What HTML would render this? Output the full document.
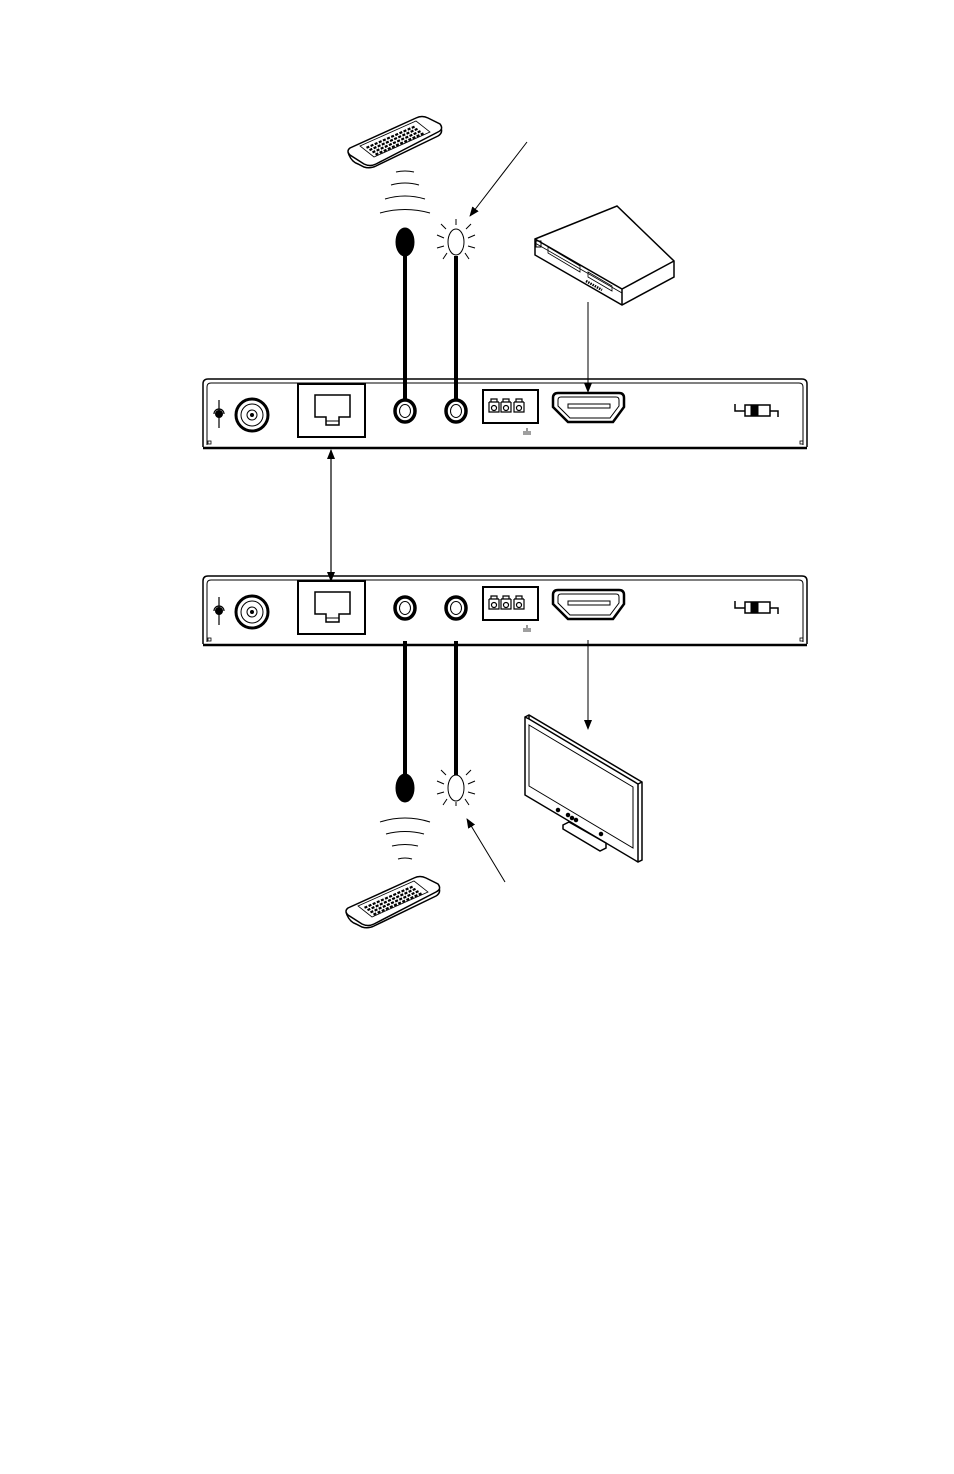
<!DOCTYPE html>
<html><head><style>body{margin:0;background:#fff}svg{display:block}</style></head><body>
<svg width="954" height="1474" viewBox="0 0 954 1474" xmlns="http://www.w3.org/2000/svg" fill="none" stroke="#000" font-family="Liberation Sans, sans-serif">
<defs>
<marker id="ah" markerWidth="10" markerHeight="10" refX="9" refY="5" orient="auto" markerUnits="userSpaceOnUse"><path d="M0,1 L10,5 L0,9 Z" fill="#000" stroke="none"/></marker>
<marker id="as" markerWidth="10" markerHeight="10" refX="1" refY="5" orient="auto" markerUnits="userSpaceOnUse"><path d="M10,1 L0,5 L10,9 Z" fill="#000" stroke="none"/></marker>
<g id="panel">
<path d="M203,447 L203,384 Q203,379 208,379 L802,379 Q807,379 807,384 L807,447" stroke-width="1.5"/>
<path d="M207,445 L207,387 Q207,383 211,383 L799,383 Q803,383 803,387 L803,445" stroke-width="1"/>
<line x1="203" y1="448" x2="807" y2="448" stroke-width="2.5"/>
<rect x="208" y="441" width="3" height="3" stroke-width="0.8"/><rect x="800" y="441" width="3" height="3" stroke-width="0.8"/>
<line x1="219" y1="400" x2="219" y2="428" stroke-width="1.2"/>
<circle cx="219" cy="414" r="3.5" fill="#000"/>
<path d="M214,414 A5,5 0 0 1 224,414" stroke-width="1.2"/>
<circle cx="252" cy="415" r="16" stroke-width="3"/>
<circle cx="252" cy="415" r="11" stroke-width="1"/>
<circle cx="252" cy="415" r="5" stroke-width="1"/>
<circle cx="252" cy="415" r="1.5" fill="#000"/>
<rect x="298" y="384" width="67" height="53" stroke-width="2"/>
<path d="M315,395 L350,395 L350,417 L339,417 L339,425 L326,425 L326,417 L315,417 Z" stroke-width="1.5"/>
<line x1="326" y1="421" x2="339" y2="421" stroke-width="1"/>
<ellipse cx="405" cy="411" rx="10" ry="11" stroke-width="3.5"/>
<ellipse cx="405" cy="411" rx="5.5" ry="6.5" stroke-width="1"/>
<ellipse cx="456" cy="411" rx="10" ry="11" stroke-width="3.5"/>
<ellipse cx="456" cy="411" rx="5.5" ry="6.5" stroke-width="1"/>
<rect x="483" y="390" width="55" height="33" stroke-width="2"/>
<g stroke-width="1.2">
<path d="M489,402 h10 M491,402 v-3 h6 v3 M489,402 v10 h10 v-10"/><circle cx="494" cy="408" r="2.5"/>
<path d="M501,402 h10 M503,402 v-3 h6 v3 M501,402 v10 h10 v-10"/><circle cx="506" cy="408" r="2.5"/>
<path d="M514,402 h10 M516,402 v-3 h6 v3 M514,402 v10 h10 v-10"/><circle cx="519" cy="408" r="2.5"/>
</g>
<path d="M527,428 v3 M523,432 h8 M523,434 h8" stroke-width="0.8"/>
<path d="M558,393 L619,393 Q624,393 624,398 L624,407 L613,422 L568,422 L553,407 L553,398 Q553,393 558,393 Z" stroke-width="2.5"/>
<path d="M561,397 L616,397 Q619,397 619,400 L619,406 L610,418 L570,418 L558,406 L558,400 Q558,397 561,397 Z" stroke-width="1"/>
<rect x="568" y="404" width="42" height="4" stroke-width="1"/>
<path d="M735,404 v7 h10 M770,411 h8 v6" stroke-width="1.5"/>
<rect x="745" y="405" width="25" height="11" stroke-width="1.5"/>
<rect x="751" y="405" width="7" height="11" fill="#000"/>
</g>
<g id="remote">
<path d="M348,152 L349,155 Q352,162 358,164 L364,167 Q370,169 376,166 L438,136 Q443,133 441,128" stroke-width="1.5"/>
<path d="M350,148 Q346,151 350,155 L364,164 Q370,167 376,164 L438,132 Q444,129 440,124 L428,118 Q422,115 416,118 Z" stroke-width="1.5" fill="#fff"/>
<path d="M360,146 L416,121 L430,132 L374,157 Z" stroke-width="0.8"/>
<g stroke-width="2.2" stroke-dasharray="3,1.5">
<line x1="366.5" y1="147.8" x2="415.5" y2="126.2"/>
<line x1="369.5" y1="150.1" x2="418.5" y2="128.4"/>
<line x1="372.5" y1="152.4" x2="421.5" y2="130.7"/>
<line x1="375.5" y1="154.6" x2="424.5" y2="132.9"/>
</g>
</g>
<g id="waves" stroke-width="1">
<path d="M396,172 Q405,170 414,172"/><path d="M391,185 Q405,181 419,185"/><path d="M385,199 Q405,193 425,199"/><path d="M380,213 Q405,206 430,213"/>
</g>
<g id="bulb" stroke-width="1">
<ellipse cx="456" cy="242" rx="8" ry="13"/>
<path d="M456,225 v-6 M446,229 l-5,-5 M466,229 l5,-5 M444,238 l-7,-3 M468,238 l7,-3 M444,246 l-7,2 M468,246 l7,2 M447,253 l-4,6 M465,253 l4,6 M456,256 v4"/>
</g>
</defs>

<use href="#remote"/>
<use href="#waves"/>
<ellipse cx="405" cy="242" rx="9" ry="14" fill="#000"/>
<line x1="405" y1="254" x2="405" y2="400" stroke-width="4"/>
<use href="#bulb"/>
<line x1="456" y1="256" x2="456" y2="400" stroke-width="4"/>
<line x1="527" y1="142" x2="470" y2="216" stroke-width="1" marker-end="url(#ah)"/>
<g stroke-width="1.5">
<path d="M535,239 L617,206 L674,261 L674,277 L622,305 L535,255 Z" fill="#fff"/>
<path d="M535,239 L622,289 L674,261 M622,289 L622,305" />
<path d="M535,243 L622,293" stroke-width="0.8"/>
<rect x="536" y="241" width="5" height="6" stroke-width="1"/>
<path d="M548,247 L580,266 L580,272 L548,253 Z M588,272 L612,286 L612,291 L588,277 Z" stroke-width="0.8"/>
<path d="M586,281 L602,290" stroke-width="2.5" stroke-dasharray="1.5,1"/>
</g>
<line x1="588" y1="302" x2="588" y2="392" stroke-width="1" marker-end="url(#ah)"/>

<use href="#panel"/>
<use href="#panel" y="197"/>

<line x1="331" y1="450" x2="331" y2="581" stroke-width="1.2" marker-start="url(#as)" marker-end="url(#ah)"/>

<line x1="405" y1="641" x2="405" y2="780" stroke-width="4"/>
<ellipse cx="405" cy="788" rx="9" ry="14" fill="#000"/>
<line x1="456" y1="641" x2="456" y2="775" stroke-width="4"/>
<use href="#bulb" y="546"/>
<g stroke-width="1">
<path d="M380,822 Q405,814 430,822"/><path d="M386,834 Q405,829 424,834"/><path d="M392,846 Q405,843 418,846"/><path d="M398,859 Q405,857 412,859"/>
</g>
<use href="#remote" x="-2" y="760"/>
<line x1="505" y1="882" x2="467" y2="819" stroke-width="1" marker-end="url(#ah)"/>
<line x1="588" y1="640" x2="588" y2="729" stroke-width="1" marker-end="url(#ah)"/>
<g stroke-width="1.5">
<path d="M525,717 L529,715 L642,782 L642,860 L638,862 L525,795 Z"/>
<path d="M529,715 L529,719 L638,784 L638,862 M529,719 L525,717 M638,784 L642,782"/>
<path d="M529,725 L633,787 L633,848 L529,786 Z" stroke-width="1"/>
<path d="M563,825 L569,822 L606,843 L606,848 L600,851 L563,829 Z"/>
<circle cx="558" cy="810" r="1.5" fill="#000"/><circle cx="568" cy="815" r="1.5" fill="#000"/><circle cx="572" cy="818" r="1.5" fill="#000"/><circle cx="576" cy="820" r="1.5" fill="#000"/><circle cx="601" cy="834" r="1.5" fill="#000"/>
</g>
</svg>
</body></html>
